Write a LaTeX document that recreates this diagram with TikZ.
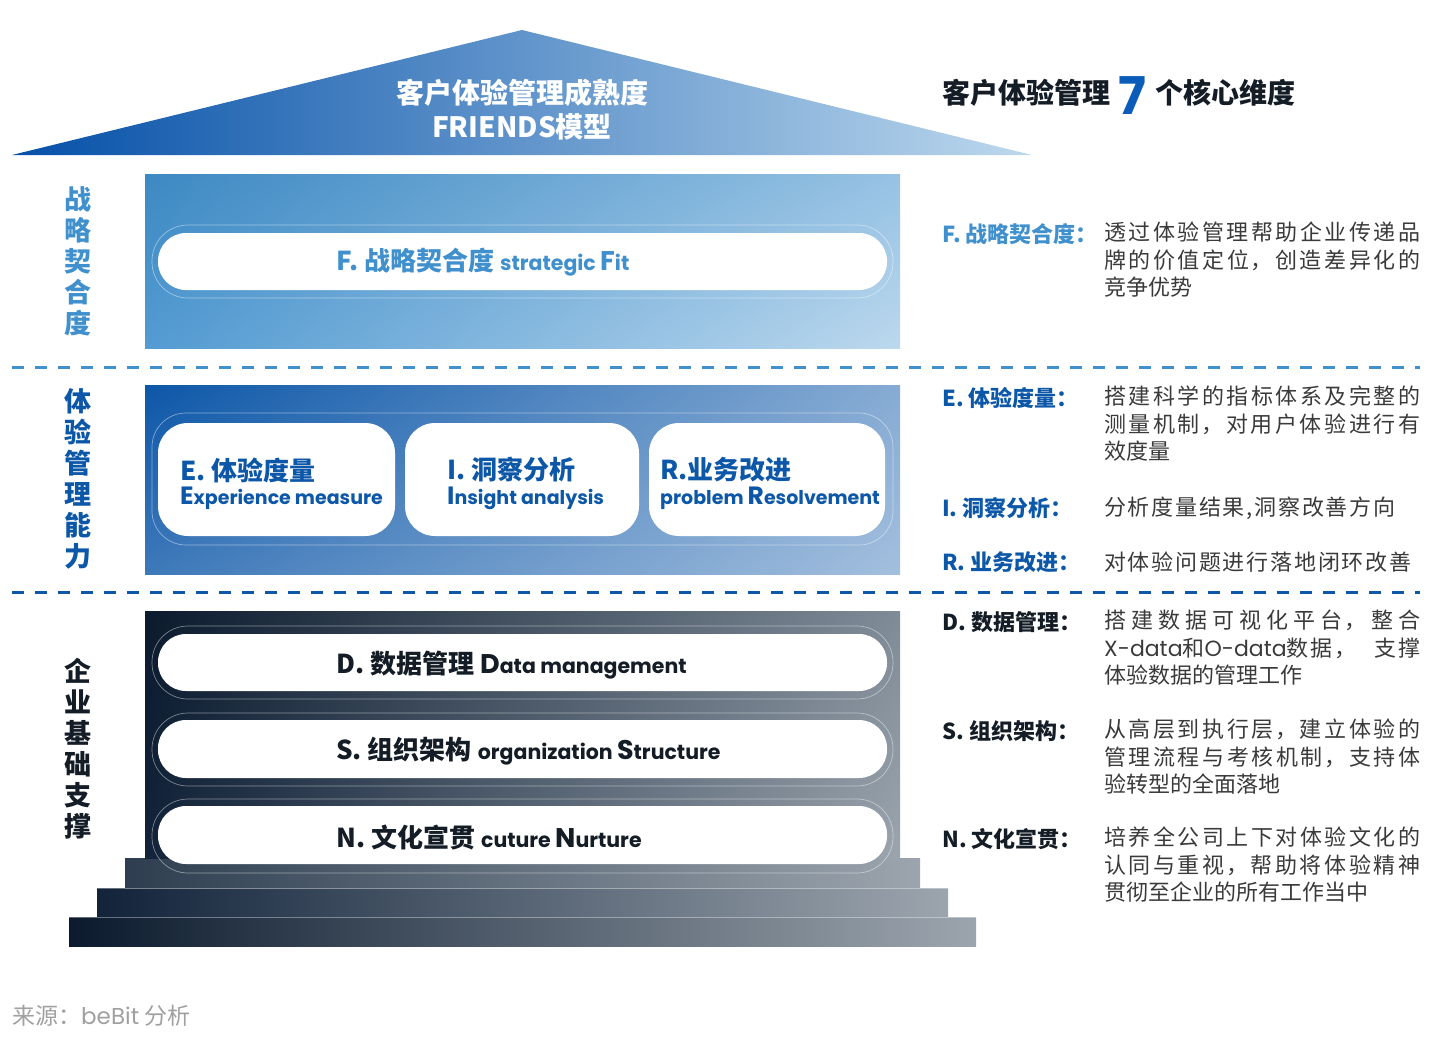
\documentclass[tikz,border=0pt]{standalone}
\usepackage{fontspec}
\setmainfont{Noto Sans CJK SC}
\newfontfamily\lat{Poppins}
\newfontfamily\desc[LetterSpace=8]{Noto Sans CJK SC}
\usetikzlibrary{positioning,shadings}
\XeTeXlinebreaklocale "zh"
\XeTeXlinebreakskip=0pt plus 4pt

\definecolor{fblue}{HTML}{4090CD}
\definecolor{eblue}{HTML}{0D57A8}
\definecolor{roofblue}{HTML}{0550A8}
\definecolor{navy}{HTML}{141C26}
\definecolor{pnavy}{HTML}{0B1A2D}
\definecolor{pdeep}{HTML}{12233A}
\definecolor{pslate}{HTML}{2E3E50}
\definecolor{pgray}{HTML}{9CA5AE}
\definecolor{pgrayd}{HTML}{7F8B97}
\definecolor{txtgray}{HTML}{3A3A3A}
\definecolor{srcgray}{HTML}{A0A0A0}
\definecolor{seven}{HTML}{0B5CB8}

\newcommand\enSmall[1]{{\lat\bfseries\fontsize{19}{22}\selectfont #1}}
\newcommand\enCap[1]{{\lat\bfseries\fontsize{25}{28}\selectfont #1}}
\newcommand\pillSmall[1]{{\lat\bfseries\fontsize{20.5}{23}\selectfont #1}}
\newcommand\pillCap[1]{{\lat\bfseries\fontsize{27}{30}\selectfont #1}}

\begin{document}
\begin{tikzpicture}[x=1pt,y=-1pt,
  every node/.style={inner sep=0pt},
  pillring/.style={draw=white,draw opacity=0.45,line width=0.7pt},
  sidelabel/.style={align=center,font=\fontsize{27}{31}\selectfont\bfseries},
  pilltext/.style={anchor=west,font=\fontsize{26}{30}\selectfont\bfseries},
  dimlabel/.style={anchor=west,font=\fontsize{22}{27}\selectfont\bfseries},
  dimtext/.style={anchor=north west,text width=316pt,align=justify,
    font=\desc\fontsize{22}{27.5}\selectfont,text=txtgray},
  dimline/.style={anchor=west,font=\desc\fontsize{22}{27.5}\selectfont,text=txtgray},
  sepline/.style={line width=3pt,dash pattern=on 12pt off 11pt}]
\useasboundingbox (0,0) rectangle (1434,1036);

% roof
\shade[left color=roofblue,right color=fblue!35!white] (12,155) -- (522,30) -- (1032,155) -- cycle;
\node (rooftop) at (522,93) [text=white,font=\fontsize{28}{30}\selectfont\bfseries] {客户体验管理成熟度};
\node (roofbot) at (522,127) [text=white,font=\fontsize{28}{30}\selectfont\bfseries] {FRIENDS模型};

% title on the right
\node (ttitle) at (942,93) [anchor=west,text=navy,font=\fontsize{28}{30}\selectfont\bfseries] {客户体验管理};
\node (tseven) [right=8pt of ttitle,text=seven,font=\lat\bfseries\fontsize{52}{54}\selectfont,yshift=-3pt] {7};
\node (tend) [right=9pt of tseven,yshift=3pt,text=navy,font=\fontsize{28}{30}\selectfont\bfseries] {个核心维度};

% F block
\shade[upper left=fblue!95!black,lower left=fblue!90!white,upper right=fblue!55!white,lower right=fblue!35!white] (145,174) rectangle (900,348);
\draw[pillring,rounded corners=36pt] (152,225) rectangle (893,298);
\fill[white,rounded corners=28pt] (158,233) rectangle (887,290);
\node (fpill) at (336,262) [pilltext,text=fblue] {F. 战略契合度 \pillSmall{strategic }\pillCap{F}\pillSmall{it}};
\node (fside) at (78,261) [sidelabel,text=fblue] {战\\略\\契\\合\\度};

\draw[sepline,draw=fblue] (12,367) -- (1420,367);

% E I R block
\shade[upper left=eblue,lower left=eblue!80!white,upper right=eblue!50!white,lower right=eblue!38!white] (145,385) rectangle (900,574);
\draw[pillring,rounded corners=34pt] (152,413) rectangle (893,545);
\foreach \xa/\xb in {158/395,405/639,649/885}
  \fill[white,rounded corners=30pt] (\xa,423) rectangle (\xb,536);
\node (etitle) at (180,470) [pilltext,text=eblue] {E. 体验度量};
\node (esub) at (180,498) [anchor=west,text=eblue] {\enCap{E}\enSmall{xperience measure}};
\node (ititle) at (447,470) [pilltext,text=eblue] {I. 洞察分析};
\node (isub) at (447,498) [anchor=west,text=eblue] {\enCap{I}\enSmall{nsight analysis}};
\node (rtitle) at (660,470) [pilltext,text=eblue] {R.业务改进};
\node (rsub) at (660,498) [anchor=west,text=eblue] {\enSmall{problem }\enCap{R}\enSmall{esolvement}};
\node (eside) at (78,479) [sidelabel,text=eblue] {体\\验\\管\\理\\能\\力};

\draw[sepline,draw=eblue] (12,592) -- (1420,592);

% D S N block with steps
\shade[left color=pnavy,right color=pgray] (69,917) rectangle (976,946);
\shade[left color=pdeep,right color=pgray] (97,888) rectangle (948,917);
\shade[left color=pslate,right color=pgray] (125,858) rectangle (920,888);
\shade[upper left=pnavy,lower left=pdeep,upper right=pgrayd,lower right=pgray] (145,611) rectangle (900,858);
\draw[white,draw opacity=0.35,line width=0.6pt] (97,888) -- (948,888) (69,917) -- (976,917);
\foreach \ya/\yb in {626/699,713/786,799/873}
  \draw[pillring,rounded corners=36pt] (152,\ya) rectangle (893,\yb);
\foreach \ya/\yb in {634/691,720/778,806/864}
  \fill[white,rounded corners=28pt] (158,\ya) rectangle (887,\yb);
\node (dpill) at (336,665) [pilltext,text=navy] {D. 数据管理 \pillCap{D}\pillSmall{ata management}};
\node (spill) at (336,751) [pilltext,text=navy] {S. 组织架构 \pillSmall{organization }\pillCap{S}\pillSmall{tructure}};
\node (npill) at (336,838) [pilltext,text=navy] {N. 文化宣贯 \pillSmall{cuture }\pillCap{N}\pillSmall{urture}};
\node (nside) at (78,749) [sidelabel,text=navy] {企\\业\\基\\础\\支\\撑};

% seven dimensions
\node (flab) at (942,234) [dimlabel,text=fblue] {F. 战略契合度：};
\node (ftxt) at (1104,222) [dimtext] {透过体验管理帮助企业传递品\linebreak 牌的价值定位，创造差异化的\linebreak 竞争优势};
\node (elab) at (942,398) [dimlabel,text=eblue] {E. 体验度量：};
\node (etxt) at (1104,386) [dimtext] {搭建科学的指标体系及完整的\linebreak 测量机制，对用户体验进行有\linebreak 效度量};
\node (ilab) at (942,508) [dimlabel,text=eblue] {I. 洞察分析：};
\node (itxt) at (1104,508) [dimline] {分析度量结果,洞察改善方向};
\node (rlab) at (942,562) [dimlabel,text=eblue] {R. 业务改进：};
\node (rtxt) at (1104,562) [dimline] {对体验问题进行落地闭环改善};
\node (dlab) at (942,622) [dimlabel,text=navy] {D. 数据管理：};
\node (dtxt) at (1104,610) [dimtext] {搭建数据可视化平台，整合\linebreak \mbox{{\lat X-data}和{\lat O-data}数据，}\hfill\mbox{支撑}\linebreak 体验数据的管理工作};
\node (slab) at (942,731) [dimlabel,text=navy] {S. 组织架构：};
\node (stxt) at (1104,719) [dimtext] {从高层到执行层，建立体验的\linebreak 管理流程与考核机制，支持体\linebreak 验转型的全面落地};
\node (nlab) at (942,839) [dimlabel,text=navy] {N. 文化宣贯：};
\node (ntxt) at (1104,827) [dimtext] {培养全公司上下对体验文化的\linebreak 认同与重视，帮助将体验精神\linebreak 贯彻至企业的所有工作当中};

\node (source) at (12,1016) [anchor=west,text=srcgray,font=\fontsize{23}{25}\selectfont] {来源：{\lat beBit} 分析};
\end{tikzpicture}
\end{document}
